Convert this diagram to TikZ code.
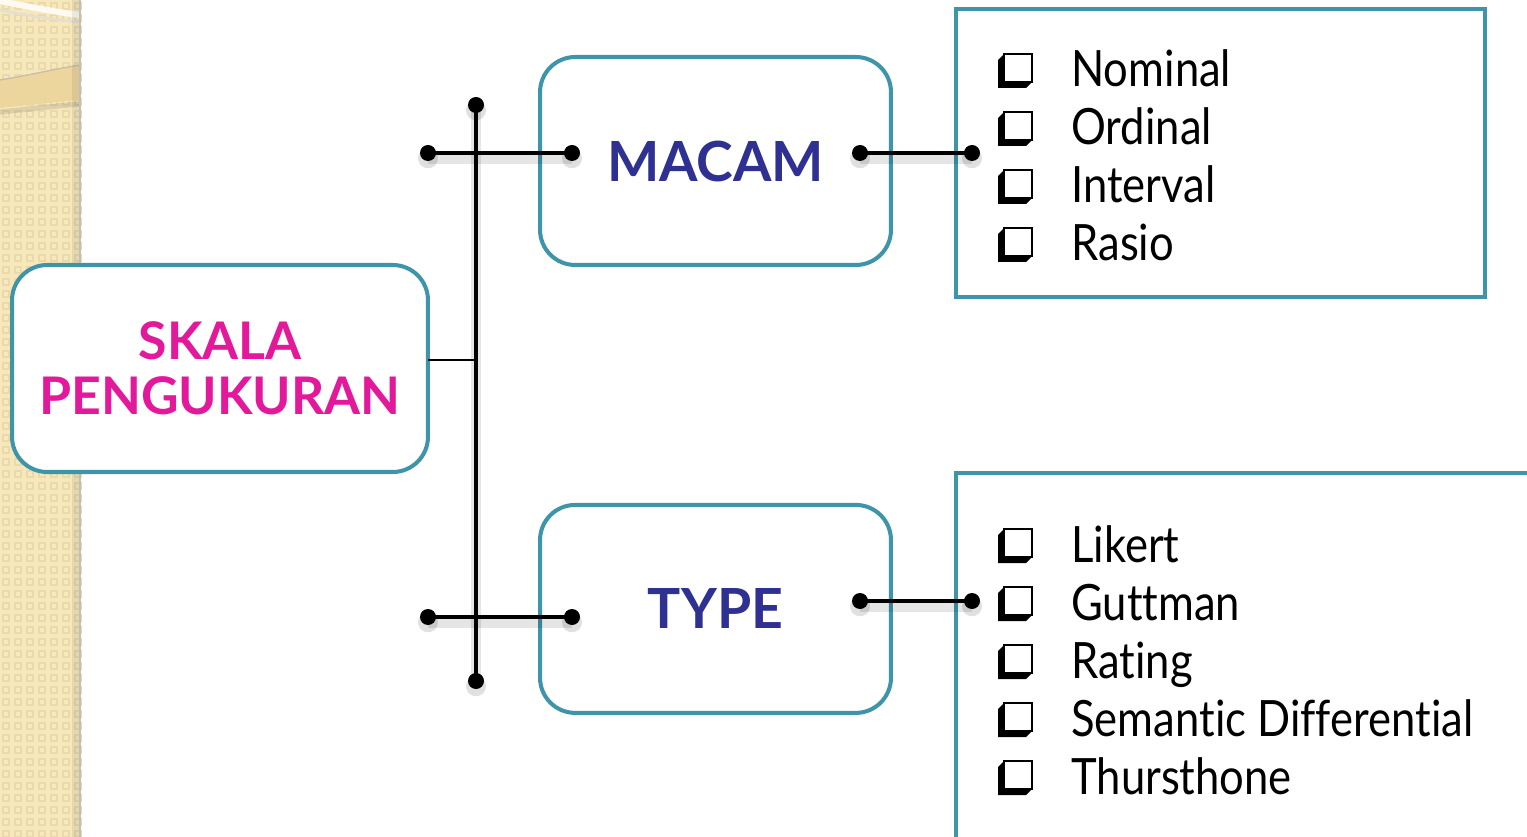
\documentclass[tikz,border=0pt]{standalone}
\usepackage{fontspec}
\setmainfont{Lato}
\newfontfamily\itemfont{Lato}[FakeStretch=0.87, Ligatures=NoCommon]
\usetikzlibrary{positioning}

\definecolor{boxteal}{HTML}{3E95A9}
\definecolor{skalapink}{HTML}{E3199C}
\definecolor{labelblue}{HTML}{2E3192}
\definecolor{stripbeige}{HTML}{F7E8BC}
\definecolor{stripdark}{HTML}{EADAAB}
\definecolor{bandbeige}{HTML}{EDD69E}

\tikzset{
  chkbox/.pic={
    \fill[black] (-14,-14) -- (-20,-8) -- (-20,20) -- (8,20) -- (14,14) -- cycle;
    \filldraw[fill=white, draw=black, line width=1.6pt] (-14,-14) rectangle (14,14);
  }
}

\begin{document}
\begin{tikzpicture}[x=0.02cm, y=-0.02cm,
  mainbox/.style={draw=boxteal, line width=2.3pt, rounded corners=20pt, fill=white,
                  align=center, inner sep=0pt, outer sep=0pt},
  listbox/.style={draw=boxteal, line width=2.3pt, inner sep=0pt, outer sep=0pt},
  link/.style={line width=2.3pt, line cap=round},
  linkshade/.style={line width=6pt, black, opacity=0.10},
  item/.style={anchor=base west, inner sep=0pt, font=\itemfont\fontsize{28.5}{30}\selectfont},
]
  \useasboundingbox (0,0) rectangle (1527,837);
  \clip (0,0) rectangle (1527,837);

  % beige strip on the left
  \fill[stripbeige] (0,0) rectangle (80,837);
  \foreach \c in {0,...,6}
    \foreach \r in {0,...,69}
      \draw[stripdark, line width=1.4pt] ({\c*12+3},{\r*12+3}) rectangle +(6,6);
  \draw[line width=3.5pt, white!80!stripbeige] (0,1) .. controls (30,7) and (55,12) .. (80,15);
  \draw[line width=1.5pt, stripdark!80!black!40] (0,10) .. controls (30,16) and (55,20) .. (80,22);
  \fill[bandbeige] (0,80) .. controls (30,75) and (55,69) .. (80,65)
    -- (80,100) .. controls (55,102) and (30,105) .. (0,108) -- cycle;
  \draw[line width=0.8pt, bandbeige!70!black!60] (0,80) .. controls (30,75) and (55,69) .. (80,65);
  \draw[line width=3pt, black, opacity=0.10] (0,112) .. controls (30,109) and (55,106) .. (80,104);
  \fill[black, opacity=0.07] (72,0) rectangle (79,837);
  \draw[black!25, line width=1pt] (80,0) -- (80,837);

  % boxes
  \node[mainbox, minimum width=8.32cm, minimum height=4.14cm, text=skalapink,
        font=\fontsize{29.5}{31.5}\selectfont\bfseries] (skala) at (220,368.5)
    {SKALA\\PENGUKURAN};
  \node[mainbox, minimum width=7.02cm, minimum height=4.16cm, text=labelblue,
        font=\fontsize{31.5}{34}\selectfont\bfseries] (macam) at (715.5,161) {MACAM};
  \node[mainbox, minimum width=7.02cm, minimum height=4.16cm, text=labelblue,
        font=\fontsize{31.5}{34}\selectfont\bfseries, below=4.8cm of macam] (type) {TYPE};
  \node[listbox, anchor=north west, minimum width=10.58cm, minimum height=5.76cm]
    (macamlist) at (956,9) {};
  \node[listbox, anchor=north west, minimum width=12cm, minimum height=8cm]
    (typelist) at (956,473) {};

  % list items
  \foreach \txt [count=\i] in {Nominal, Ordinal, Interval, Rasio} {
    \pic at (1018,{68+58*(\i-1)}) {chkbox};
    \node[item] (macam-\i) at (1071,{87+58*(\i-1)}) {\txt};
  }
  \foreach \txt [count=\i] in {Likert, Guttman, Rating, Semantic Differential, Thursthone} {
    \pic at (1018,{543+58*(\i-1)}) {chkbox};
    \node[item] (type-\i) at (1071,{562+58*(\i-1)}) {\txt};
  }

  % connectors
  \coordinate (busTop) at (476,105);
  \coordinate (busBot) at (476,681);
  \coordinate (busMid) at (476,360);
  \coordinate (macamL) at (428,153);
  \coordinate (macamR) at (572,153);
  \coordinate (typeL) at (428,617);
  \coordinate (typeR) at (572,617);
  \coordinate (macamOut) at (860,153);
  \coordinate (macamEnd) at (972,153);
  \coordinate (typeOut) at (860,601);
  \coordinate (typeEnd) at (972,601);

  \foreach \a/\b in {busTop/busBot, macamL/macamR, typeL/typeR, macamOut/macamEnd, typeOut/typeEnd} {
    \draw[linkshade] ([yshift=-3pt]\a) -- ([yshift=-3pt]\b);
  }
  \draw[line width=1.3pt] (skala.east |- busMid) -- (busMid);
  \draw[link] (busTop) -- (busBot);
  \draw[link] (macamL) -- (macamR);
  \draw[link] (typeL) -- (typeR);
  \draw[link] (macamOut) -- (macamEnd);
  \draw[link] (typeOut) -- (typeEnd);
  \foreach \p in {busTop, busBot, macamL, macamR, typeL, typeR, macamOut, macamEnd, typeOut, typeEnd} {
    \fill[black, opacity=0.12] ([yshift=-3pt]\p) circle (10);
    \fill (\p) circle (8);
  }
\end{tikzpicture}
\end{document}
